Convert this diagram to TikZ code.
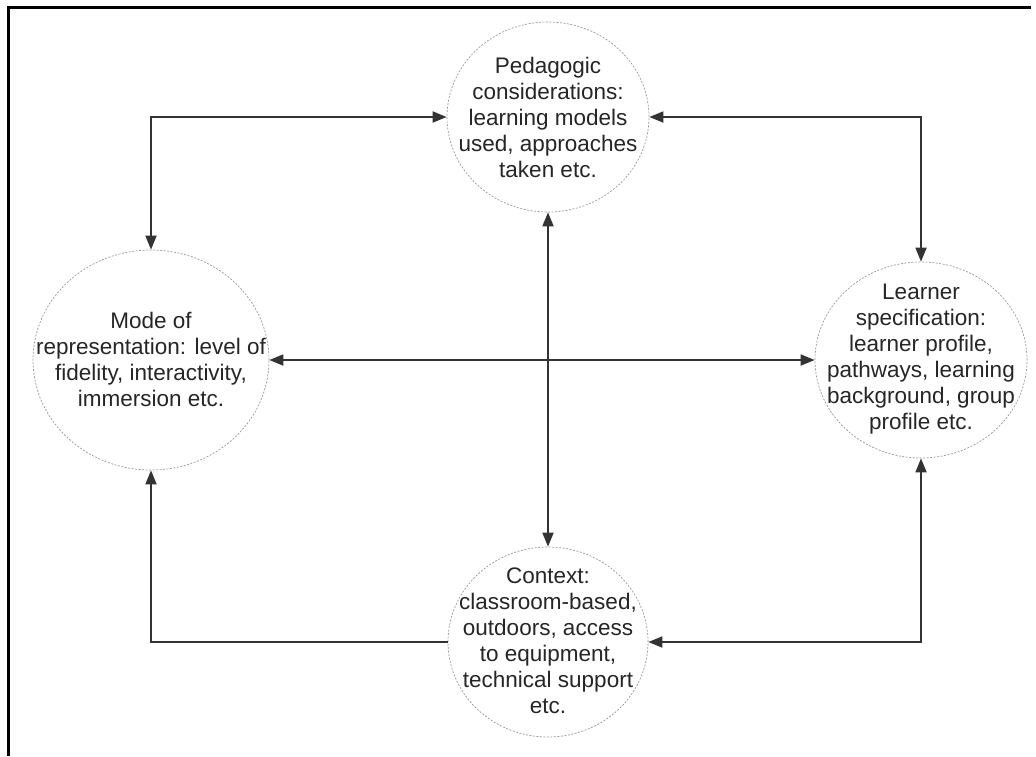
\documentclass[tikz,border=0pt]{standalone}
\usepackage{fontspec}
\setmainfont{Liberation Sans}
\usetikzlibrary{shapes.geometric,arrows.meta}
\begin{document}
\begin{tikzpicture}[x=1pt,y=-1pt,
  >={Triangle[length=14pt,width=11pt]},
  bubble/.style={ellipse,draw=black!40,dash pattern=on 2pt off 1.5pt,line width=0.7pt,inner sep=0pt,fill=white},
  btext/.style={align=center,text=black!85,inner sep=0pt,font=\fontsize{22.5}{26}\selectfont},
  link/.style={line width=1.8pt,draw=black!80},
  frame/.style={line width=3pt,draw=black}]
\useasboundingbox (0,0) rectangle (1036,756);
\draw[frame] (8,756) -- (8,7) -- (1031,7);
\node[bubble,minimum width=202pt,minimum height=190pt] (p) at (548,117) {};
\node[bubble,minimum width=236pt,minimum height=220pt] (m) at (151,360) {};
\node[bubble,minimum width=212pt,minimum height=196pt] (r) at (921,360) {};
\node[bubble,minimum width=200pt,minimum height=190pt] (c) at (548,642) {};
\node[btext] (pt) at (548,117) {Pedagogic\\considerations:\\learning models\\used, approaches\\taken etc.};
\node[btext] (mt) at (151,359) {Mode of\\representation: level of\\fidelity, interactivity,\\immersion etc.};
\node[btext] (rt) at (921,359) {Learner\\specification:\\learner profile,\\pathways, learning\\background, group\\profile etc.};
\node[btext] (ct) at (548,641) {Context:\\classroom-based,\\outdoors, access\\to equipment,\\technical support\\etc.};
\draw[link,<->] (m.north) |- (p.west);
\draw[link,<->] (p.east) -| (r.north);
\draw[link,<->] (m.east) -- (r.west);
\draw[link,<->] (p.south) -- (c.north);
\draw[link,->] (c.west) -| (m.south);
\draw[link,<->] (r.south) |- (c.east);
\end{tikzpicture}
\end{document}
